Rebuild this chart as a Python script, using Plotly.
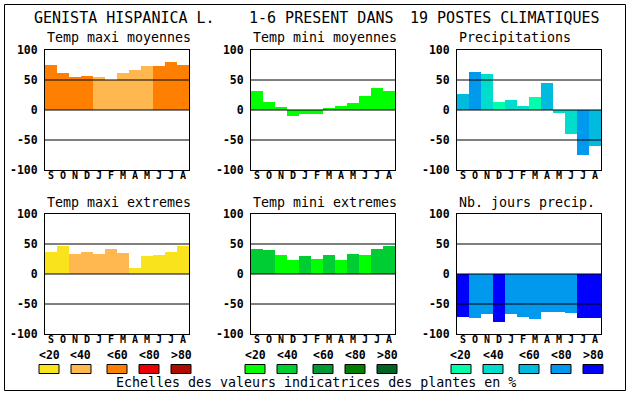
import plotly.graph_objects as go

# ---------------- data ----------------
months = ["S", "O", "N", "D", "J", "F", "M", "A", "M", "J", "J", "A"]
scale_labels = ["<20", "<40", "<60", "<80", ">80"]

panel_titles = ["Temp maxi moyennes", "Temp mini moyennes", "Precipitations",
                "Temp maxi extremes", "Temp mini extremes", "Nb. jours precip."]

temp_maxi_moy = [75, 62, 55, 57, 55, 50, 61, 67, 74, 74, 80, 75]
temp_maxi_moy_cls = [2, 2, 2, 2, 1, 1, 1, 1, 1, 2, 2, 2]

temp_mini_moy = [32, 14, 5.5, -10.5, -7, -7, 2, 7, 12, 24, 37, 32]
temp_mini_moy_cls = [0, 0, 0, 0, 0, 0, 0, 0, 0, 0, 0, 0]

precip = [27, 64, 60.5, 14, 17, 7, 22, 45.5, -5.5, -40.5, -75.5, -60.5]
precip_cls = [2, 3, 1, 0, 1, 1, 0, 2, 1, 1, 3, 2]

temp_maxi_ext = [37, 47, 34, 37, 34, 42, 35.5, 10.5, 30.5, 32, 37, 47]
temp_maxi_ext_cls = [0, 0, 1, 1, 1, 1, 1, 0, 0, 0, 0, 0]

temp_mini_ext = [42, 40.5, 32, 24, 30.5, 25.5, 32, 24, 34, 32, 42, 47]
temp_mini_ext_cls = [1, 1, 0, 0, 1, 0, 1, 0, 1, 0, 1, 1]

nb_jours = [-72, -74, -67, -80.5, -67, -72, -75.5, -64, -64, -65.5, -74, -74]
nb_jours_cls = [4, 3, 3, 4, 3, 3, 3, 3, 3, 3, 4, 4]

y_ticks = [-100, -50, 0, 50, 100]

# ---------------- styles ----------------
warm = ["#F8E31C", "#FFB84F", "#FF8000", "#EA0000", "#AE0C00"]
green = ["#00FF00", "#00CC33", "#009933", "#007F00", "#006322"]
blue = ["#00FFAA", "#00DDCC", "#00BBDD", "#0099EE", "#0000FF"]

W, H = 630, 394
FONT = "DejaVu Sans Mono"

panels = [
    (temp_maxi_moy, temp_maxi_moy_cls, warm),
    (temp_mini_moy, temp_mini_moy_cls, green),
    (precip, precip_cls, blue),
    (temp_maxi_ext, temp_maxi_ext_cls, warm),
    (temp_mini_ext, temp_mini_ext_cls, green),
    (nb_jours, nb_jours_cls, blue),
]
col_x0 = [45, 251, 457]
row_y = [(50, 170), (214, 334)]
PW = 144


def px(x):
    return x / W


def py(y):
    return 1 - y / H


fig = go.Figure()
layout = dict(
    width=W, height=H, margin=dict(l=0, r=0, t=0, b=0, pad=0, autoexpand=False),
    paper_bgcolor="white", plot_bgcolor="white",
    showlegend=False, bargap=0,
)
shapes = []
annotations = []

for i, (vals, cls, pal) in enumerate(panels):
    n = i + 1
    r, c = divmod(i, 3)
    x0 = col_x0[c]
    ytop, ybot = row_y[r]
    xa = "x" if n == 1 else f"x{n}"
    ya = "y" if n == 1 else f"y{n}"
    fig.add_trace(go.Bar(
        x=list(range(len(months))), y=vals, width=1,
        marker=dict(color=[pal[k] for k in cls], line=dict(width=0)),
        xaxis=xa, yaxis=ya, hoverinfo="skip",
    ))
    layout[f"xaxis{'' if n == 1 else n}"] = dict(
        domain=[px(x0), px(x0 + PW)], anchor=ya, range=[-0.5, 11.5],
        tickvals=list(range(len(months))), ticktext=months,
        tickfont=dict(family=FONT, size=10, color="black", weight="bold"),
        ticks="", ticklabelstandoff=-4, automargin=False,
        showgrid=False, zeroline=False,
        showline=True, mirror=True, linecolor="black", linewidth=1,
        fixedrange=True,
    )
    layout[f"yaxis{'' if n == 1 else n}"] = dict(
        domain=[py(ybot), py(ytop)], anchor=xa, range=[-100, 100],
        tickvals=y_ticks, ticktext=[str(v) for v in y_ticks],
        tickfont=dict(family=FONT, size=11.5, color="black", weight="bold"),
        ticks="", ticklabelstandoff=4, automargin=False,
        showgrid=False, zeroline=False,
        showline=True, mirror=True, linecolor="black", linewidth=1,
        fixedrange=True,
    )
    for v in (50, 0, -50):
        shapes.append(dict(type="line", xref=f"{xa} domain", yref=ya,
                           x0=0, x1=1, y0=v, y1=v, layer="above",
                           line=dict(color="black", width=1)))
    annotations.append(dict(
        text=panel_titles[i], x=px(x0), y=py(ytop - 12), xref="paper", yref="paper",
        xanchor="left", yanchor="middle", showarrow=False,
        font=dict(family=FONT, size=13.3, color="black"),
    ))

# main title pieces
for txt, x in [("GENISTA HISPANICA L.", 32), ("1-6 PRESENT DANS", 247),
               ("19 POSTES CLIMATIQUES", 408)]:
    annotations.append(dict(
        text=txt, x=px(x), y=py(18), xref="paper", yref="paper",
        xanchor="left", yanchor="middle", showarrow=False,
        font=dict(family=FONT, size=15, color="black"),
    ))

# colour-scale keys
box_offsets = [-6, 26, 62, 94, 126]
for c, pal in enumerate([warm, green, blue]):
    for k, off in enumerate(box_offsets):
        bx = col_x0[c] + off
        shapes.append(dict(type="rect", xref="paper", yref="paper",
                           x0=px(bx), x1=px(bx + 20), y0=py(373.5), y1=py(364.5),
                           fillcolor=pal[k], line=dict(color="black", width=1)))
        annotations.append(dict(
            text=scale_labels[k], x=px(bx + 10), y=py(355), xref="paper", yref="paper",
            xanchor="center", yanchor="middle", showarrow=False,
            font=dict(family=FONT, size=11.5, color="black", weight="bold"),
        ))

annotations.append(dict(
    text="Echelles des valeurs indicatrices des plantes en %",
    x=px(316), y=py(382.5), xref="paper", yref="paper",
    xanchor="center", yanchor="middle", showarrow=False,
    font=dict(family=FONT, size=13.3, color="black"),
))

# outer frame
shapes.append(dict(type="rect", xref="paper", yref="paper",
                   x0=px(4.5), x1=px(625.5), y0=py(390.5), y1=py(4.5),
                   line=dict(color="black", width=1), fillcolor="rgba(0,0,0,0)"))

layout["shapes"] = shapes
layout["annotations"] = annotations
fig.update_layout(**layout)
fig.write_html("out.html", config={"displayModeBar": False},
               post_script="document.body.style.margin='0';document.body.style.overflow='hidden';")
